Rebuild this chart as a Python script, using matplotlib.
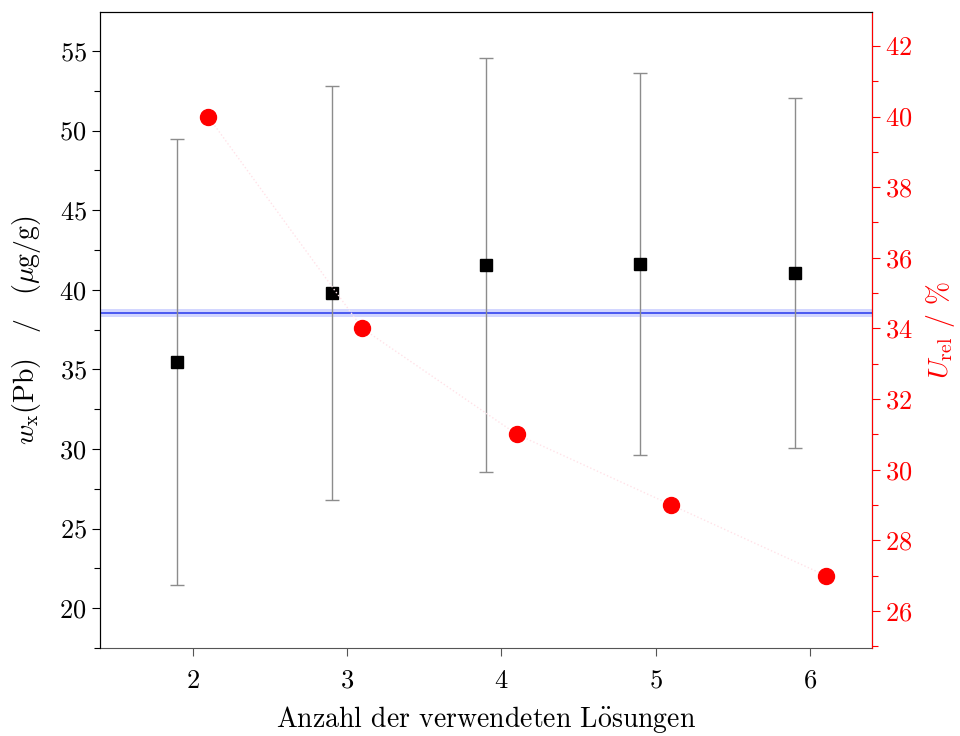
import matplotlib
matplotlib.use("Agg")
import matplotlib.pyplot as plt
from matplotlib.ticker import MultipleLocator

plt.rcParams["font.family"] = ["cmr10", "DejaVu Serif"]
plt.rcParams["mathtext.fontset"] = "cm"
plt.rcParams["axes.formatter.use_mathtext"] = True

# mass fraction per number of solutions used
n_solutions = [2, 3, 4, 5, 6]
wx = [35.45, 39.8, 41.55, 41.6, 41.05]
wx_err = [14.0, 13.0, 13.0, 12.0, 11.0]
# relative expanded uncertainty
u_rel = [40, 34, 31, 29, 27]
# reference value with its band
ref_val = 38.54
ref_band = 0.25

fig = plt.figure(figsize=(9.6, 7.36), dpi=100)
ax = fig.add_axes([100 / 960, 88 / 736, 772 / 960, 636 / 736])

x_left = [n - 0.1 for n in n_solutions]
x_right = [n + 0.1 for n in n_solutions]

ax.axhspan(ref_val - ref_band, ref_val + ref_band, color="#7f8cff", alpha=0.35, lw=0, zorder=1)
ax.axhline(ref_val, color="#3344ee", lw=1.2, zorder=2)
ax.errorbar(x_left, wx, yerr=wx_err, fmt="s", color="black", ms=8.5,
            ecolor="#8c8c8c", elinewidth=1.0, capsize=5, capthick=1.0, zorder=3)

ax.set_xlim(1.4, 6.4)
ax.set_ylim(17.5, 57.45)
ax.xaxis.set_major_locator(MultipleLocator(1))
ax.yaxis.set_major_locator(MultipleLocator(5))
ax.yaxis.set_minor_locator(MultipleLocator(2.5))
ax.tick_params(direction="out", labelsize=19, length=6, width=0.8)
ax.tick_params(axis="x", pad=9)
ax.tick_params(which="minor", direction="out", length=4, width=0.8)
ax.tick_params(axis="x", colors="#555555", labelcolor="black")
ax.spines["bottom"].set_color("#555555")
ax.set_xlabel(r"Anzahl der verwendeten L$\ddot{\mathrm{o}}$sungen", fontsize=20, labelpad=8)
ax.set_ylabel(r"$w_\mathrm{x}\mathrm{(Pb)}\quad/\quad(\mu\mathrm{g/g})$", fontsize=20, labelpad=12)

ax2 = ax.twinx()
ax2.plot(x_right, u_rel, ls=":", color="#ffe2e8", lw=1.0, marker="o", ms=11.5,
         mfc="red", mec="red", zorder=4)
ax2.set_ylim(24.95, 42.96)
ax2.yaxis.set_major_locator(MultipleLocator(2))
ax2.yaxis.set_minor_locator(MultipleLocator(1))
ax2.tick_params(axis="y", colors="red", direction="out", labelsize=19, length=6, width=0.8)
ax2.tick_params(axis="y", which="minor", colors="red", direction="out", length=4, width=0.8)
ax2.spines["right"].set_color("red")
ax2.spines["bottom"].set_visible(False)
ax2.set_ylabel(r"$U_\mathrm{rel}$ / %", color="red", fontsize=20, labelpad=8)

fig.savefig("out.png", dpi=100)
